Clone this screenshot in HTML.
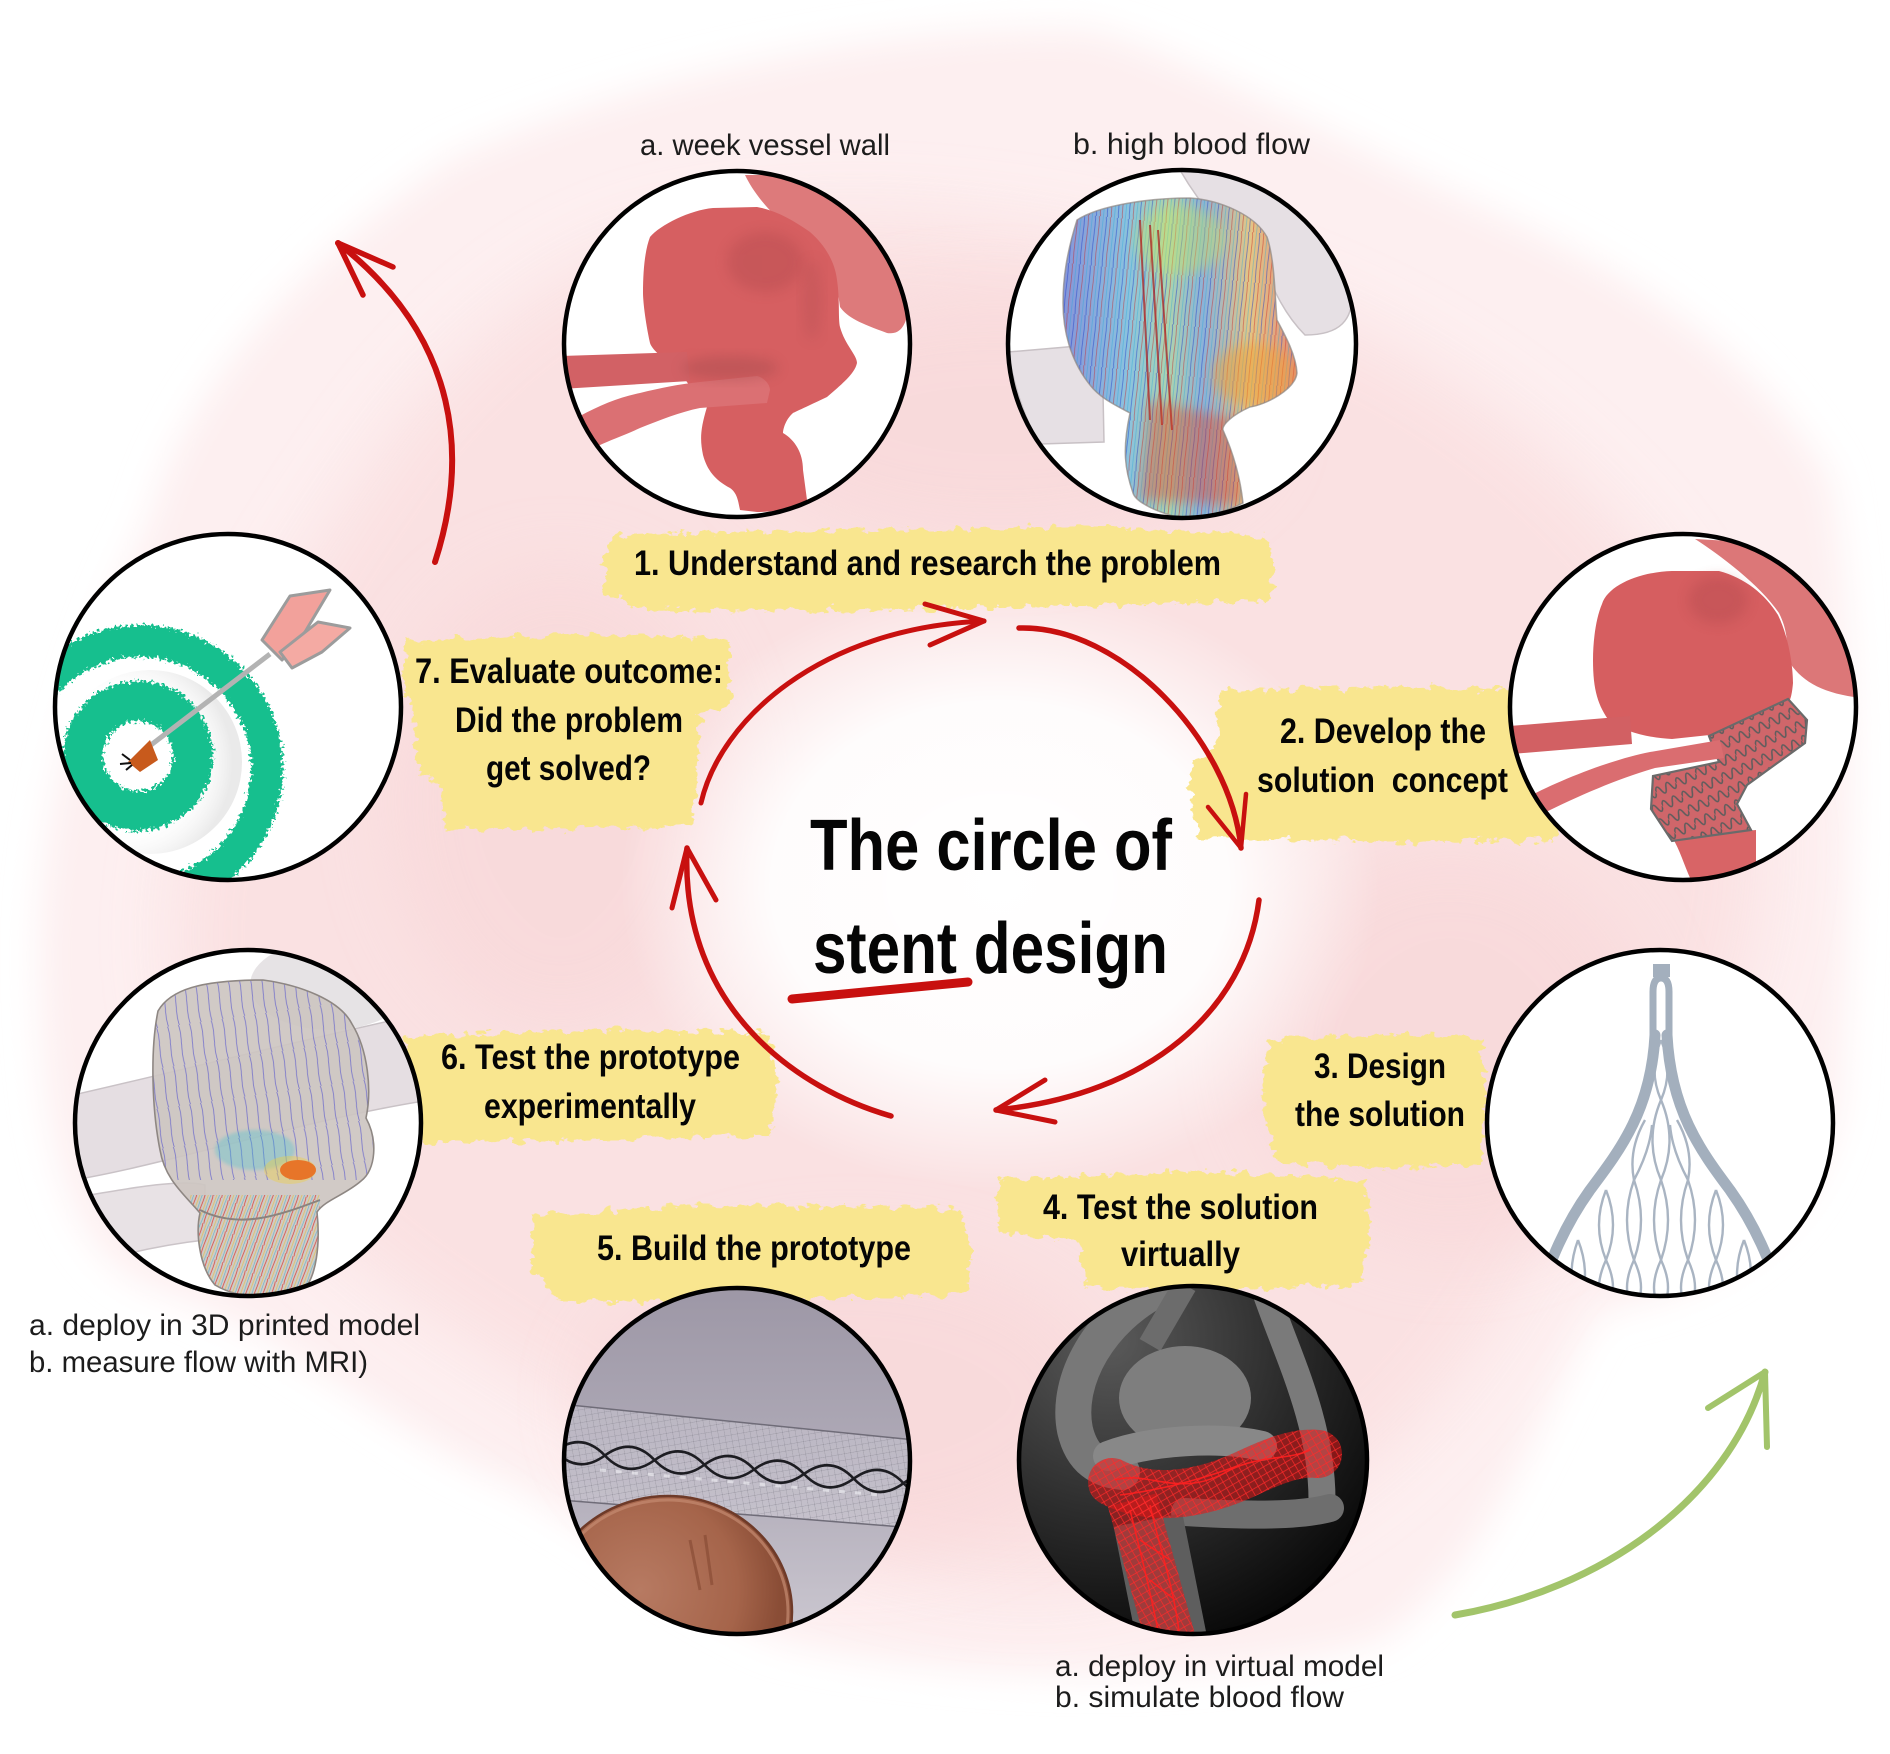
<!DOCTYPE html>
<html><head><meta charset="utf-8"><title>The circle of stent design</title>
<style>
html,body{margin:0;padding:0;background:#fff;}
svg{display:block;}
.b{font-family:"Liberation Sans",Arial,sans-serif;font-weight:700;font-size:35px;fill:#050505;}
.t{font-family:"Liberation Sans",Arial,sans-serif;font-weight:700;font-size:72px;fill:#050505;}
.l{font-family:"Liberation Sans",Arial,sans-serif;font-weight:400;font-size:30px;fill:#1c1c1c;}
</style></head><body>
<svg width="1890" height="1754" viewBox="0 0 1890 1754" xmlns="http://www.w3.org/2000/svg">
<defs>
 <filter id="blurBig" x="-20%" y="-20%" width="140%" height="140%"><feGaussianBlur stdDeviation="35"/></filter>
 <filter id="blurMid" x="-20%" y="-20%" width="140%" height="140%"><feGaussianBlur stdDeviation="18"/></filter>
 <filter id="soft" x="-30%" y="-30%" width="160%" height="160%"><feGaussianBlur stdDeviation="6"/></filter>
 <filter id="soft2" x="-10%" y="-10%" width="120%" height="120%"><feGaussianBlur stdDeviation="1.5"/></filter>
 <filter id="brush" x="-5%" y="-25%" width="110%" height="150%">
   <feTurbulence type="fractalNoise" baseFrequency="0.08 0.12" numOctaves="3" seed="7" result="n"/>
   <feDisplacementMap in="SourceGraphic" in2="n" scale="16" xChannelSelector="R" yChannelSelector="G"/>
 </filter>
 <filter id="speck" x="-10%" y="-10%" width="120%" height="120%">
   <feTurbulence type="fractalNoise" baseFrequency="0.35" numOctaves="2" seed="2" result="n"/>
   <feDisplacementMap in="SourceGraphic" in2="n" scale="12" xChannelSelector="R" yChannelSelector="G"/>
 </filter>

 <clipPath id="k1a"><circle cx="737" cy="344" r="172"/></clipPath>
 <clipPath id="k1b"><circle cx="1182" cy="344" r="173"/></clipPath>
 <clipPath id="k2"><circle cx="1683" cy="707" r="172"/></clipPath>
 <clipPath id="k3"><circle cx="1660" cy="1123" r="172"/></clipPath>
 <clipPath id="k4"><circle cx="1193" cy="1460" r="173"/></clipPath>
 <clipPath id="k5"><circle cx="737" cy="1461" r="172"/></clipPath>
 <clipPath id="k6"><circle cx="248" cy="1123" r="172"/></clipPath>
 <clipPath id="k7"><circle cx="228" cy="707" r="172"/></clipPath>

 <path id="body1b" d="M1077,220 C1100,205 1150,198 1190,198 C1220,200 1255,215 1267,237 C1275,260 1275,300 1277,320 C1285,335 1296,355 1297,373 C1295,390 1265,405 1250,407 C1232,415 1222,425 1223,430 C1232,450 1240,475 1243,503 C1220,515 1195,518 1177,517 C1150,510 1135,500 1133,493 C1125,470 1122,450 1130,413 C1115,405 1100,398 1090,385 C1070,360 1063,330 1063,303 C1063,280 1066,255 1077,220 Z"/>
 <clipPath id="kb1b"><use href="#body1b"/></clipPath>
 <path id="body6" d="M158,1011 C170,990 200,980 263,980 C300,985 340,1000 352,1024 C368,1050 372,1090 366,1118 C378,1140 376,1170 361,1181 C345,1195 325,1200 317,1212 C320,1240 318,1280 300,1293 C280,1300 240,1300 215,1285 C198,1265 196,1230 200,1213 C185,1195 165,1180 160,1150 C152,1110 150,1050 158,1011 Z"/>
 <clipPath id="kb6"><use href="#body6"/></clipPath>
 <path id="stent2" d="M1709,736 L1788,699 L1807,720 L1805,743 L1747,785 L1737,804 L1751,830 L1672,841 L1651,809 L1653,776 L1719,762 Z"/>
 <clipPath id="ks2"><use href="#stent2"/></clipPath>

 <linearGradient id="g1b" x1="1063" y1="0" x2="1297" y2="0" gradientUnits="userSpaceOnUse">
  <stop offset="0" stop-color="#2f55e0"/>
  <stop offset="0.28" stop-color="#39b0ea"/>
  <stop offset="0.45" stop-color="#7fd08a"/>
  <stop offset="0.6" stop-color="#3a8ee0"/>
  <stop offset="0.8" stop-color="#e9b53a"/>
  <stop offset="1" stop-color="#e2462a"/>
 </linearGradient>
 <radialGradient id="g4" cx="1110" cy="1340" r="340" gradientUnits="userSpaceOnUse">
  <stop offset="0" stop-color="#5a5a5a"/>
  <stop offset="0.5" stop-color="#2e2e2e"/>
  <stop offset="1" stop-color="#030303"/>
 </radialGradient>
 <linearGradient id="g5" x1="0" y1="1287" x2="0" y2="1635" gradientUnits="userSpaceOnUse">
  <stop offset="0" stop-color="#9d97a6"/>
  <stop offset="0.5" stop-color="#afaab7"/>
  <stop offset="1" stop-color="#cbc7d0"/>
 </linearGradient>
 <radialGradient id="gcoin" cx="640" cy="1590" r="140" gradientUnits="userSpaceOnUse">
  <stop offset="0" stop-color="#b77a62"/>
  <stop offset="0.7" stop-color="#a5644a"/>
  <stop offset="1" stop-color="#8a4d36"/>
 </radialGradient>
 <radialGradient id="gwhite" cx="0.5" cy="0.5" r="0.5">
  <stop offset="0" stop-color="#fff" stop-opacity="1"/>
  <stop offset="0.6" stop-color="#fff" stop-opacity="0.9"/>
  <stop offset="1" stop-color="#fff" stop-opacity="0"/>
 </radialGradient>
 <radialGradient id="gshade7" cx="0.35" cy="0.5" r="0.6">
  <stop offset="0.6" stop-color="#fff" stop-opacity="0"/>
  <stop offset="1" stop-color="#d0d0d0" stop-opacity="0.45"/>
 </radialGradient>

 <pattern id="flow" width="11" height="50" patternUnits="userSpaceOnUse" patternTransform="rotate(6)">
  <path d="M1,0 C3,12 0,30 2,50" stroke="#1f3cc8" stroke-width="0.8" fill="none"/>
  <path d="M5,0 C7,15 4,35 6,50" stroke="#c81e1e" stroke-width="0.7" fill="none"/>
  <path d="M9,0 L9,50" stroke="#20a8d8" stroke-width="0.6"/>
 </pattern>
 <pattern id="flowB" width="11" height="40" patternUnits="userSpaceOnUse" patternTransform="rotate(-8)">
  <path d="M1,0 C4,10 -1,28 2,40" stroke="#2a2ad0" stroke-width="0.8" fill="none"/>
 </pattern>
 <pattern id="flowR" width="8" height="30" patternUnits="userSpaceOnUse" patternTransform="rotate(20)">
  <path d="M1,0 C3,10 0,20 2,30" stroke="#d8201a" stroke-width="0.8" fill="none"/>
  <path d="M4.5,0 L4.5,30" stroke="#e0c030" stroke-width="0.7"/>
  <path d="M7,0 C6,10 8,20 7,30" stroke="#30b0d0" stroke-width="0.6" fill="none"/>
 </pattern>
 <pattern id="mesh" width="22" height="15" patternUnits="userSpaceOnUse" patternTransform="rotate(-25)">
  <path d="M0,8 q2.75,-9 5.5,0 t5.5,0 t5.5,0 t5.5,0" stroke="#5d5d5d" stroke-width="1.6" fill="none"/>
 </pattern>
 <pattern id="rmesh" width="10" height="10" patternUnits="userSpaceOnUse" patternTransform="rotate(15)">
  <path d="M0,0 L10,10 M10,0 L0,10" stroke="#ff2a2a" stroke-width="0.7"/>
 </pattern>
 <pattern id="smesh" width="9" height="9" patternUnits="userSpaceOnUse" patternTransform="rotate(35)">
  <path d="M0,0 L9,9 M9,0 L0,9" stroke="#8c8a95" stroke-width="0.5"/>
 </pattern>
</defs>

<!-- background -->
<rect x="0" y="0" width="1890" height="1754" fill="#ffffff"/>
<path filter="url(#blurMid)" fill="#fdeff0" d="M1085,30 C1150,40 1300,120 1446,191 C1600,260 1740,330 1830,480 C1860,650 1850,900 1840,1100 C1820,1220 1720,1290 1600,1310 C1540,1400 1500,1560 1380,1640 C1200,1690 950,1680 780,1640 C650,1580 560,1500 480,1470 C380,1420 280,1330 160,1290 C70,1260 40,1150 40,950 C40,800 90,640 150,520 C180,400 290,270 450,160 C650,70 900,25 1085,30 Z"/>
<path filter="url(#blurBig)" fill="#fadfe0" opacity="0.85" d="M700,230 C900,190 1200,240 1400,350 C1580,450 1720,600 1760,800 C1780,1000 1680,1150 1540,1250 C1440,1440 1300,1560 1050,1590 C850,1590 700,1500 560,1400 C400,1300 230,1200 180,1000 C150,800 270,600 400,420 C500,300 600,240 700,230 Z"/>
<g filter="url(#blurBig)" fill="#f8d5d7" opacity="0.55">
 <ellipse cx="560" cy="800" rx="170" ry="230"/>
 <ellipse cx="850" cy="1400" rx="260" ry="150"/>
 <ellipse cx="1450" cy="1050" rx="200" ry="200"/>
 <ellipse cx="1000" cy="420" rx="260" ry="120"/>
</g>
<ellipse cx="1000" cy="885" rx="380" ry="305" fill="url(#gwhite)"/>

<!-- yellow highlight bands -->
<g fill="#f9e68f" filter="url(#brush)">
 <path d="M602,562 L614,536 L700,532 L900,530 L1100,527 L1265,535 L1274,562 L1270,600 L1000,608 L800,611 L640,609 L606,592 Z"/>
 <path d="M404,641 L560,634 L728,638 L731,705 L700,712 L696,790 L690,826 L560,830 L446,828 L440,786 L418,772 L412,702 L404,690 Z"/>
 <path d="M404,1036 L600,1030 L770,1033 L778,1080 L770,1135 L600,1140 L420,1142 L410,1090 Z"/>
 <path d="M1220,691 L1400,686 L1510,690 L1530,760 L1560,800 L1555,840 L1400,842 L1200,838 L1188,792 L1195,762 L1216,746 Z"/>
 <path d="M1268,1040 L1400,1034 L1482,1040 L1486,1100 L1480,1164 L1380,1168 L1276,1163 L1262,1100 Z"/>
 <path d="M1000,1178 L1200,1172 L1365,1180 L1370,1230 L1360,1285 L1200,1290 L1086,1288 L1078,1240 L1000,1233 L996,1200 Z"/>
 <path d="M531,1215 L700,1205 L960,1208 L972,1250 L965,1295 L750,1300 L562,1302 L533,1270 Z"/>
</g>

<!-- Circle 1a : weak vessel wall -->
<g clip-path="url(#k1a)">
 <rect x="560" y="168" width="360" height="360" fill="#fff"/>
 <path fill="#dd7a7b" d="M745,175 C752,190 770,215 793,230 C815,245 835,262 840,307 C848,318 860,323 887,333 C900,335 907,327 910,300 C912,270 905,240 873,197 C850,180 820,172 807,175 Z"/>
 <path fill="#d65f61" d="M650,237 C660,225 690,210 713,208 L757,207 C775,210 793,220 810,232 C825,245 835,262 837,280 C840,300 838,318 840,327 C845,345 857,355 857,363 C855,372 847,380 827,397 C810,405 793,413 793,413 C785,420 783,430 783,433 C795,440 803,453 803,470 L807,500 C790,510 770,512 757,512 L740,510 C738,500 737,493 730,488 C715,480 707,470 703,455 C700,440 700,430 707,407 C695,395 690,385 680,373 C665,360 652,350 650,343 C645,320 643,300 643,293 C643,270 645,250 650,237 Z"/>
 <path fill="#d26165" d="M560,356 L687,352 L690,381 L560,389 Z"/>
 <path fill="#db7073" d="M580,416 C600,405 620,397 640,393 C660,388 680,384 700,382 L757,376 C765,378 770,385 770,390 L767,403 L700,408 C680,412 660,420 640,428 C625,435 610,440 598,446 Z"/>
 <ellipse cx="765" cy="262" rx="38" ry="30" fill="#a84448" opacity="0.3" filter="url(#soft)"/>
 <ellipse cx="730" cy="368" rx="48" ry="12" fill="#9a4649" opacity="0.35" filter="url(#soft)"/>
 <ellipse cx="812" cy="300" rx="10" ry="40" fill="#b05052" opacity="0.3" filter="url(#soft)"/>
</g>
<circle cx="737" cy="344" r="173" fill="none" stroke="#000" stroke-width="4.5"/>

<!-- Circle 1b : high blood flow -->
<g clip-path="url(#k1b)">
 <rect x="1005" y="168" width="360" height="360" fill="#fff"/>
 <path fill="#e6e0e4" stroke="#c8c1c5" stroke-width="1.5" d="M1180,170 L1290,168 C1320,200 1340,240 1352,290 C1354,320 1340,335 1305,335 C1282,312 1272,285 1262,262 C1230,240 1200,205 1180,170 Z"/>
 <path fill="#e6e0e4" stroke="#c8c1c5" stroke-width="1.5" d="M1008,352 L1102,344 L1104,442 L1040,444 C1025,420 1015,390 1008,352 Z"/>
 <use href="#body1b" fill="#ddd6d2"/>
 <use href="#body1b" fill="url(#g1b)" opacity="0.5"/>
 <g clip-path="url(#kb1b)">
  <rect x="1060" y="195" width="240" height="325" fill="url(#flow)" opacity="0.6"/>
  <ellipse cx="1180" cy="240" rx="45" ry="35" fill="#c9e860" opacity="0.4" filter="url(#soft)"/>
  <ellipse cx="1255" cy="375" rx="42" ry="32" fill="#f2a030" opacity="0.5" filter="url(#soft)"/>
  <path d="M1140,220 L1150,420 M1150,225 L1162,425 M1158,230 L1172,430" stroke="#b01818" stroke-width="2" opacity="0.7"/>
  <path fill="#e04020" opacity="0.4" filter="url(#soft)" d="M1150,400 L1240,420 L1243,505 L1140,500 Z"/>
 </g>
 <use href="#body1b" fill="none" stroke="#8e8783" stroke-width="1.5" opacity="0.7"/>
</g>
<circle cx="1182" cy="344" r="174" fill="none" stroke="#000" stroke-width="4.5"/>

<!-- Circle 2 : solution concept -->
<g clip-path="url(#k2)">
 <rect x="1505" y="530" width="360" height="360" fill="#fff"/>
 <path fill="#dc7778" d="M1695,539 C1720,555 1760,585 1779,613 C1790,635 1786,650 1788,660 C1800,680 1820,692 1854,697 C1860,680 1860,640 1857,620 C1840,590 1812,560 1765,543 Z"/>
 <path fill="#d65e60" d="M1602,604 C1608,585 1640,572 1672,571 L1719,571 C1745,578 1765,594 1778,615 C1790,640 1793,670 1793,683 C1792,695 1790,702 1788,702 L1719,734 L1672,739 C1650,738 1625,732 1610,722 C1598,706 1593,690 1593,660 C1593,640 1596,618 1602,604 Z"/>
 <ellipse cx="1718" cy="600" rx="30" ry="24" fill="#a84448" opacity="0.3" filter="url(#soft)"/>
 <path fill="#d26063" d="M1510,726 L1630,716 L1632,744 L1512,754 Z"/>
 <path fill="#d86466" d="M1672,837 L1756,830 L1756,864 C1735,872 1700,880 1691,880 C1684,865 1680,850 1672,837 Z"/>
 <use href="#stent2" fill="#cf666a"/>
 <g clip-path="url(#ks2)"><rect x="1640" y="690" width="180" height="160" fill="url(#mesh)"/></g>
 <use href="#stent2" fill="none" stroke="#6a6a6a" stroke-width="2.2"/>
 <path fill="#da6d70" d="M1528,797 C1560,780 1610,760 1650,752 L1720,740 L1724,758 L1655,768 C1620,778 1580,795 1540,815 Z"/>
</g>
<circle cx="1683" cy="707" r="173" fill="none" stroke="#000" stroke-width="4.5"/>

<!-- Circle 3 : stent design -->
<g clip-path="url(#k3)">
 <rect x="1485" y="948" width="350" height="350" fill="#fff"/>
 <g fill="none" stroke="#a9b4c2" stroke-width="2.4">
  <path d="M1661,1040 Q1648,1070 1661,1100 Q1674,1070 1661,1040"/>
  <path d="M1661,1100 Q1644,1140 1661,1180 Q1678,1140 1661,1100"/>
  <path d="M1645,1120 Q1628,1150 1634,1180 Q1650,1150 1652,1125"/>
  <path d="M1677,1120 Q1694,1150 1688,1180 Q1672,1150 1670,1125"/>
  <path d="M1661,1180 Q1647,1220 1661,1260 Q1675,1220 1661,1180"/>
  <path d="M1634,1180 Q1620,1220 1634,1260 Q1648,1220 1634,1180"/>
  <path d="M1688,1180 Q1674,1220 1688,1260 Q1702,1220 1688,1180"/>
  <path d="M1606,1190 Q1592,1225 1606,1260 Q1620,1225 1606,1190"/>
  <path d="M1716,1190 Q1702,1225 1716,1260 Q1730,1225 1716,1190"/>
  <path d="M1661,1260 Q1647,1290 1661,1310 Q1675,1290 1661,1260"/>
  <path d="M1634,1260 Q1620,1290 1634,1310 Q1648,1290 1634,1260"/>
  <path d="M1688,1260 Q1674,1290 1688,1310 Q1702,1290 1688,1260"/>
  <path d="M1606,1260 Q1592,1290 1606,1310 Q1620,1290 1606,1260"/>
  <path d="M1716,1260 Q1702,1290 1716,1310 Q1730,1290 1716,1260"/>
  <path d="M1578,1240 Q1565,1275 1578,1310 Q1592,1275 1578,1240"/>
  <path d="M1744,1240 Q1730,1275 1744,1310 Q1758,1275 1744,1240"/>
 </g>
 <rect x="1653" y="964" width="17" height="13" fill="#a3afbd"/>
 <path d="M1653,1040 L1653,992 Q1653,978 1661,978 Q1669,978 1669,992 L1669,1040" fill="none" stroke="#a3afbd" stroke-width="7"/>
 <path d="M1655,1035 C1651,1110 1620,1150 1590,1190 C1565,1225 1550,1260 1536,1305" fill="none" stroke="#a3afbd" stroke-width="11" stroke-linecap="round"/>
 <path d="M1667,1035 C1671,1110 1700,1150 1730,1190 C1755,1225 1770,1260 1784,1305" fill="none" stroke="#a3afbd" stroke-width="11" stroke-linecap="round"/>
</g>
<circle cx="1660" cy="1123" r="173" fill="none" stroke="#000" stroke-width="4.5"/>

<!-- Circle 4 : virtual test -->
<g clip-path="url(#k4)">
 <rect x="1015" y="1283" width="360" height="360" fill="url(#g4)"/>
 <path d="M1160,1288 C1100,1318 1065,1380 1075,1430 C1082,1460 1100,1470 1122,1472" fill="none" stroke="#787878" stroke-width="36" stroke-linecap="round"/>
 <path d="M1185,1285 L1150,1345" fill="none" stroke="#6c6c6c" stroke-width="24"/>
 <ellipse cx="1185" cy="1398" rx="66" ry="52" fill="#7e7e7e"/>
 <path d="M1265,1290 C1285,1350 1322,1420 1322,1500" fill="none" stroke="#7a7a7a" stroke-width="27" stroke-linecap="round"/>
 <path d="M1108,1456 C1150,1440 1220,1436 1262,1446" fill="none" stroke="#888" stroke-width="30" stroke-linecap="round"/>
 <path d="M1185,1512 C1250,1516 1300,1516 1330,1508" fill="none" stroke="#6e6e6e" stroke-width="28" stroke-linecap="round"/>
 <path d="M1148,1520 L1174,1650" fill="none" stroke="#5e5e5e" stroke-width="70"/>
 <path d="M1112,1482 C1150,1502 1200,1496 1250,1472 C1280,1458 1300,1452 1318,1454" fill="none" stroke="#e01818" stroke-opacity="0.55" stroke-width="48" stroke-linecap="round"/>
 <path d="M1132,1500 L1172,1645" fill="none" stroke="#e01818" stroke-opacity="0.5" stroke-width="50"/>
 <path d="M1112,1482 C1150,1502 1200,1496 1250,1472 C1280,1458 1300,1452 1318,1454" fill="none" stroke="url(#rmesh)" stroke-width="48" stroke-linecap="round"/>
 <path d="M1132,1500 L1172,1645" fill="none" stroke="url(#rmesh)" stroke-width="50"/>
 <g fill="none" stroke="#ff2020" stroke-width="1.6" opacity="0.9">
  <path d="M1115,1480 C1150,1470 1180,1500 1230,1470 C1260,1455 1290,1460 1310,1450"/>
  <path d="M1120,1495 C1160,1490 1200,1480 1240,1465"/>
  <path d="M1130,1510 C1140,1550 1150,1590 1160,1640"/>
  <path d="M1150,1505 C1160,1550 1175,1590 1180,1640"/>
  <path d="M1140,1540 L1170,1560 M1150,1580 L1175,1600"/>
 </g>
</g>
<circle cx="1193" cy="1460" r="174" fill="none" stroke="#000" stroke-width="4.5"/>

<!-- Circle 5 : prototype photo -->
<g clip-path="url(#k5)">
 <rect x="560" y="1285" width="360" height="355" fill="url(#g5)"/>
 <path d="M560,1404 L915,1440 L915,1528 L560,1500 Z" fill="#dcdbe3" opacity="0.35"/>
 <path d="M560,1404 L915,1440 L915,1528 L560,1500 Z" fill="url(#smesh)" opacity="0.8"/>
 <path d="M560,1404 L915,1440 M560,1500 L915,1528" stroke="#6f6c78" stroke-width="1.5"/>
 <g transform="rotate(5.3 567 1452)" fill="none" stroke="#1d1d22" stroke-width="2.6">
  <path d="M555,1452 q25,-22 50,0 t50,0 t50,0 t50,0 t50,0 t50,0 t50,0 t50,0"/>
  <path d="M555,1452 q25,22 50,0 t50,0 t50,0 t50,0 t50,0 t50,0 t50,0 t50,0"/>
 </g>
 <path d="M600,1470 L880,1495" stroke="#f2f2f6" stroke-width="3" opacity="0.6" stroke-dasharray="6 10"/>
 <ellipse cx="668" cy="1612" rx="124" ry="116" fill="url(#gcoin)"/>
 <ellipse cx="668" cy="1612" rx="120" ry="112" fill="none" stroke="#c58a70" stroke-width="3" opacity="0.7"/>
 <ellipse cx="668" cy="1612" rx="124" ry="116" fill="none" stroke="#6e3a28" stroke-width="2.5"/>
 <path d="M690,1540 L700,1590 M705,1535 L712,1585" stroke="#8a4d36" stroke-width="3" opacity="0.7"/>
</g>
<circle cx="737" cy="1461" r="173" fill="none" stroke="#000" stroke-width="4.5"/>

<!-- Circle 6 : experimental test -->
<g clip-path="url(#k6)">
 <rect x="72" y="948" width="352" height="352" fill="#fff"/>
 <path fill="#e5dee2" stroke="#c9c2c6" stroke-width="1.5" d="M60,1098 C150,1078 300,1040 430,1012 L430,1100 C300,1120 150,1170 60,1182 Z"/>
 <path fill="#e8e2e5" stroke="#cbc4c8" stroke-width="1.5" d="M60,1200 C120,1190 180,1178 205,1185 L205,1240 C150,1246 100,1260 60,1272 Z"/>
 <ellipse cx="330" cy="985" rx="80" ry="45" fill="#e0dcde" opacity="0.8"/>
 <use href="#body6" fill="#cdc6c1" opacity="0.92"/>
 <g clip-path="url(#kb6)">
  <rect x="150" y="975" width="225" height="205" fill="url(#flowB)" opacity="0.55"/>
  <rect x="190" y="1195" width="130" height="110" fill="url(#flowR)" opacity="0.75"/>
  <ellipse cx="255" cy="1150" rx="40" ry="20" fill="#30c0d0" opacity="0.3" filter="url(#soft2)"/>
  <ellipse cx="298" cy="1170" rx="18" ry="10" fill="#e23a1a"/>
  <ellipse cx="290" cy="1170" rx="26" ry="14" fill="#f0d040" opacity="0.4"/>
  <path d="M200,1210 C240,1230 280,1215 320,1200" stroke="#8a837f" stroke-width="2" fill="none"/>
 </g>
 <use href="#body6" fill="none" stroke="#8e8783" stroke-width="1.6"/>
</g>
<circle cx="248" cy="1123" r="173" fill="none" stroke="#000" stroke-width="4.5"/>

<!-- Circle 7 : target -->
<g clip-path="url(#k7)">
 <rect x="52" y="532" width="352" height="352" fill="#fff"/>
 <circle cx="150" cy="762" r="92" fill="url(#gshade7)"/>
 <g filter="url(#speck)">
  <circle cx="140" cy="768" r="127" fill="none" stroke="#17bf8e" stroke-width="32"/>
  <circle cx="138" cy="756" r="55" fill="none" stroke="#17bf8e" stroke-width="40"/>
 </g>
 <line x1="147" y1="748" x2="270" y2="654" stroke="#b3b3b3" stroke-width="5"/>
 <path d="M262,640 L290,596 L330,590 L305,632 L282,660 Z" fill="#f2a19b" stroke="#9c9c9c" stroke-width="3" stroke-linejoin="round"/>
 <path d="M280,652 L318,622 L350,628 L322,652 L292,668 Z" fill="#f4aaa3" stroke="#9c9c9c" stroke-width="3" stroke-linejoin="round"/>
 <path d="M128,762 L150,740 L158,760 L140,772 Z" fill="#c85a1c"/>
 <path d="M122,754 L130,760 M120,764 L131,763 M126,770 L132,765" stroke="#111" stroke-width="2"/>
</g>
<circle cx="228" cy="707" r="173" fill="none" stroke="#000" stroke-width="4.5"/>

<!-- red cycle arrows -->
<g fill="none" stroke="#c8100f" stroke-linecap="round" stroke-linejoin="round">
 <path d="M701,803 C720,720 820,628 984,621" stroke-width="5"/>
 <path d="M925,604 L984,621 L930,645" stroke-width="5"/>
 <path d="M1019,628 C1120,625 1230,740 1241,848" stroke-width="5.5"/>
 <path d="M1208,807 L1241,848 L1246,794" stroke-width="4.5"/>
 <path d="M1259,900 C1245,1010 1150,1095 996,1110" stroke-width="5.5"/>
 <path d="M1045,1080 L996,1110 L1055,1122" stroke-width="5"/>
 <path d="M891,1116 C800,1090 680,1010 687,848" stroke-width="5.5"/>
 <path d="M672,908 L687,848 L716,900" stroke-width="5"/>
 <path d="M792,999 L968,982" stroke-width="9"/>
 <path d="M435,562 C468,460 462,340 338,243" stroke-width="6"/>
 <path d="M393,267 L338,243 L363,295" stroke-width="5.5"/>
</g>
<!-- green arrow -->
<g fill="none" stroke="#a2c46a" stroke-linecap="round" stroke-linejoin="round">
 <path d="M1455,1615 C1600,1590 1730,1500 1765,1372" stroke-width="7"/>
 <path d="M1708,1408 L1765,1372 L1767,1447" stroke-width="6"/>
</g>

<!-- thin captions -->
<text class="l" x="640" y="155" textLength="250" lengthAdjust="spacingAndGlyphs">a. week vessel wall</text>
<text class="l" x="1073" y="154" textLength="237" lengthAdjust="spacingAndGlyphs">b. high blood flow</text>
<text class="l" x="29" y="1335" textLength="391" lengthAdjust="spacingAndGlyphs">a. deploy in 3D printed model</text>
<text class="l" x="29" y="1372" textLength="339" lengthAdjust="spacingAndGlyphs">b. measure flow with MRI)</text>
<text class="l" x="1055" y="1676" textLength="329" lengthAdjust="spacingAndGlyphs">a. deploy in virtual model</text>
<text class="l" x="1055" y="1707" textLength="289" lengthAdjust="spacingAndGlyphs">b. simulate blood flow</text>

<!-- bold step labels -->
<text class="b" x="634" y="575" textLength="587" lengthAdjust="spacingAndGlyphs">1. Understand and research the problem</text>
<text class="b" x="1280" y="743" textLength="206" lengthAdjust="spacingAndGlyphs">2. Develop the</text>
<text class="b" x="1257" y="792" textLength="251" lengthAdjust="spacingAndGlyphs" style="white-space:pre">solution  concept</text>
<text class="b" x="1314" y="1078" textLength="132" lengthAdjust="spacingAndGlyphs">3. Design</text>
<text class="b" x="1295" y="1126" textLength="170" lengthAdjust="spacingAndGlyphs">the solution</text>
<text class="b" x="1043" y="1219" textLength="275" lengthAdjust="spacingAndGlyphs">4. Test the solution</text>
<text class="b" x="1121" y="1266" textLength="119" lengthAdjust="spacingAndGlyphs">virtually</text>
<text class="b" x="597" y="1260" textLength="314" lengthAdjust="spacingAndGlyphs">5. Build the prototype</text>
<text class="b" x="441" y="1069" textLength="299" lengthAdjust="spacingAndGlyphs">6. Test the prototype</text>
<text class="b" x="484" y="1118" textLength="212" lengthAdjust="spacingAndGlyphs">experimentally</text>
<text class="b" x="415" y="683" textLength="308" lengthAdjust="spacingAndGlyphs">7. Evaluate outcome:</text>
<text class="b" x="455" y="732" textLength="228" lengthAdjust="spacingAndGlyphs">Did the problem</text>
<text class="b" x="486" y="780" textLength="165" lengthAdjust="spacingAndGlyphs">get solved?</text>

<!-- title -->
<text class="t" x="810" y="870" textLength="362" lengthAdjust="spacingAndGlyphs">The circle of</text>
<text class="t" x="813" y="973" textLength="355" lengthAdjust="spacingAndGlyphs">stent design</text>
</svg>
</body></html>
